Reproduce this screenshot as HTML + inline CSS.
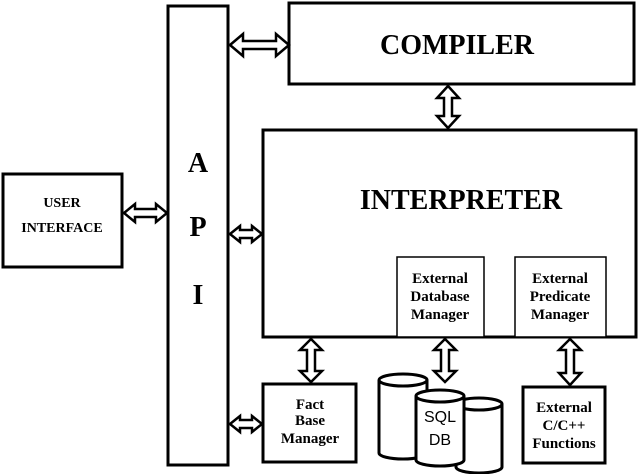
<!DOCTYPE html>
<html><head><style>
body{margin:0;background:#fff}
svg{display:block}
text{font-family:"Liberation Serif",serif;font-weight:bold;fill:#000;text-anchor:middle}
</style></head><body>
<svg width="640" height="474" viewBox="0 0 640 474" xmlns="http://www.w3.org/2000/svg">
<g fill="#fff" stroke="#000" stroke-width="3">
<rect x="168" y="6" width="60" height="459"/>
<rect x="289" y="3" width="345" height="81"/>
<rect x="263" y="130" width="373" height="207"/>
<rect x="3" y="174" width="119" height="93"/>
<rect x="263" y="384" width="93" height="78"/>
<rect x="523" y="387" width="82" height="76"/>
</g>
<g fill="#fff" stroke="#000" stroke-width="1.5">
<rect x="397" y="257" width="87" height="80"/>
<rect x="515" y="257" width="91" height="80"/>
</g>
<g font-size="28"><text x="457" y="54">COMPILER</text>
<text x="461" y="209">INTERPRETER</text>
<text x="198" y="172">A</text><text x="198" y="236">P</text><text x="198" y="304">I</text></g>
<g font-size="14"><text x="62" y="207">USER</text><text x="62" y="232">INTERFACE</text></g>
<g font-size="15">
<text x="440" y="283">External</text><text x="440" y="301">Database</text><text x="440" y="319">Manager</text>
<text x="560" y="283">External</text><text x="560" y="301">Predicate</text><text x="560" y="319">Manager</text>
<text x="310" y="409">Fact</text><text x="310" y="425">Base</text><text x="310" y="443">Manager</text>
<text x="564" y="412">External</text><text x="564" y="430">C/C++</text><text x="564" y="448">Functions</text>
</g>
<g fill="#fff" stroke="#000" stroke-width="2.5">
<polygon points="230,45 243,34 243,41 276,41 276,34 289,45 276,56 276,49 243,49 243,56"/>
<polygon points="124,213 135,204 135,209 156,209 156,204 167,213 156,222 156,217 135,217 135,222"/>
<polygon points="230,234 240,226 240,230 252,230 252,226 262,234 252,242 252,238 240,238 240,242"/>
<polygon points="230,424 240,416 240,420 252,420 252,416 262,424 252,432 252,428 240,428 240,432"/>
<polygon points="448,86 459,98 452,98 452,116 459,116 448,128 437,116 444,116 444,98 437,98"/>
<polygon points="311,339 322,350 315,350 315,371 322,371 311,382 300,371 307,371 307,350 300,350"/>
<polygon points="445,339 456,350 449,350 449,371 456,371 445,382 434,371 441,371 441,350 434,350"/>
<polygon points="570,339 581,350 574,350 574,373 581,373 570,385 559,373 566,373 566,350 559,350"/>
</g>
<g fill="#fff" stroke="#000" stroke-width="3">
<path d="M379,380 v73 a24,6 0 0 0 48,0 v-73"/><ellipse cx="403" cy="380" rx="24" ry="6"/>
<path d="M456,404 v63 a23,6 0 0 0 46,0 v-63"/><ellipse cx="479" cy="404" rx="23" ry="6"/>
<path d="M416,396 v64 a24,6 0 0 0 48,0 v-64"/><ellipse cx="440" cy="396" rx="24" ry="6"/>
</g>
<g font-size="16"><text x="440" y="422" style="font-family:'Liberation Sans',sans-serif;font-weight:normal">SQL</text><text x="440" y="445" style="font-family:'Liberation Sans',sans-serif;font-weight:normal">DB</text></g>
</svg>
</body></html>
